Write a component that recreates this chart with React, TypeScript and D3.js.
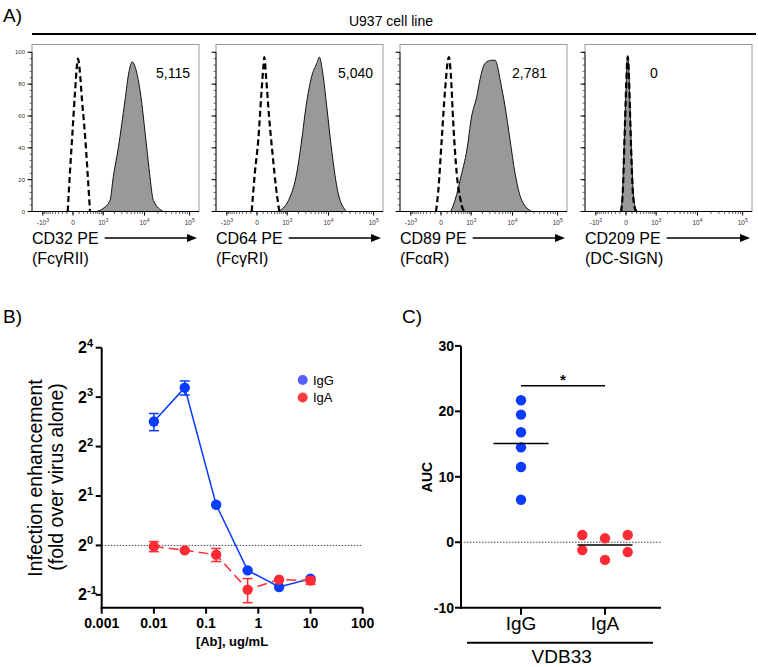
import React from "react";
import * as d3 from "d3";

const W = 758;
const H = 667;
const FONT = "'Liberation Sans', Arial, sans-serif";
const BLUE = "#0a3cff";
const RED = "#ff2b34";

// ---- panel A: flow histograms, [fluorescence, % of max]
const markers = ["CD32 PE", "CD64 PE", "CD89 PE", "CD209 PE"];
const receptors = ["(FcγRII)", "(FcγRI)", "(FcαR)", "(DC-SIGN)"];
const mfi = ["5,115", "5,040", "2,781", "0"];

const isotype = [
  [[-86, 0], [-46, 25], [-7, 50], [30, 75], [63, 92], [80, 96], [109, 90], [161, 70], [233, 48], [302, 25], [380, 0]],
  [[-86, 0], [-30, 25], [19, 45], [71, 75], [109, 92], [125, 97], [161, 85], [233, 60], [338, 35], [450, 15], [582, 0]],
  [[-80, 0], [-41, 13], [10, 45], [63, 76], [125, 96], [139, 97], [177, 87], [241, 55], [338, 24], [450, 9], [582, 1], [708, 0]],
  [[-80, 0], [-48, 13], [-22, 45], [2, 78], [20, 96], [28, 97], [42, 88], [63, 62], [90, 32], [120, 10], [170, 1], [205, 0]],
];

const stained = [
  [[644, 0], [1010, 2], [1530, 7], [1857, 22], [2470, 40], [3575, 70], [4435, 88], [5290, 94], [6100, 91], [7930, 76], [11230, 40], [13000, 24], [15800, 7], [26300, 0]],
  [[540, 0], [1199, 9], [1792, 24], [2388, 45], [3033, 66], [4136, 85], [5400, 93], [6200, 97], [7420, 87], [9130, 66], [11830, 38], [16600, 11], [25500, 0]],
  [[177, 0], [287, 7], [516, 24], [743, 38], [1037, 60], [1414, 72], [1722, 83], [2084, 91], [2526, 94], [3330, 95], [3985, 95], [4365, 93], [5210, 83], [6780, 66], [8800, 45], [11400, 24], [16100, 7], [26900, 0]],
  [[-86, 0], [-51, 13], [-25, 45], [0, 76], [19, 97], [25, 98], [41, 91], [63, 66], [93, 34], [125, 11], [184, 1], [215, 0]],
];

const histTicks = [-1000, 0, 1000, 10000, 100000];
const histTickLabels = [["-10", "3"], ["0", ""], ["10", "3"], ["10", "4"], ["10", "5"]];
const pctTicks = [0, 20, 40, 60, 80, 100];

// ---- panel B: infection enhancement
const conc = [0.01, 0.039, 0.156, 0.625, 2.5, 10];
const iggMean = [5.68, 9.14, 1.77, 0.705, 0.558, 0.627];
const iggSem = [0.68, 0.9, 0, 0, 0, 0];
const igaMean = [0.986, 0.933, 0.878, 0.538, 0.619, 0.61];
const igaSem = [0.07, 0, 0.08, 0.09, 0, 0.03];
const concTicks = [0.001, 0.01, 0.1, 1, 10, 100];
const concTickLabels = ["0.001", "0.01", "0.1", "1", "10", "100"];
const foldTicks = [0.5, 1, 2, 4, 8, 16];

// ---- panel C: AUC
const aucGroups = ["IgG", "IgA"];
const aucIgG = [21.7, 19.5, 16.8, 14.5, 11.5, 6.5];
const aucIgA = [1.1, 0.6, 1.1, -1.2, -2.7, -1.5];
const aucTicks = [-10, 0, 10, 20, 30];

const histLefts = [32, 216, 400, 585];
const HW = 167;
const mfiX = [124, 122, 112, 65];

function textWidth(s, size) {
  let w = 0;
  for (const c of s) {
    if (c === "C" || c === "D") w += 0.722;
    else if (c === "P" || c === "E") w += 0.667;
    else if (c === " ") w += 0.278;
    else w += 0.556;
  }
  return w * size;
}

function Histogram({ i }) {
  const left = histLefts[i];
  const x = d3.scaleSymlog().constant(280).domain([-1930, 160000]).range([left, left + HW]);
  const y = d3.scaleLinear().domain([0, 100]).range([211.5, 52.3]);
  const area = d3.area().x(d => x(d[0])).y0(y(0)).y1(d => y(d[1])).curve(d3.curveMonotoneX);
  const line = d3.line().x(d => x(d[0])).y(d => y(d[1])).curve(d3.curveMonotoneX);

  const minor = [];
  for (let v = -1000; v <= 1000; v += 100) minor.push(v);
  for (let v = 2000; v < 10000; v += 1000) minor.push(v);
  for (let v = 20000; v < 100000; v += 10000) minor.push(v);
  const pctMinor = d3.range(0, 101, 4);

  const arrowStart = left + textWidth(markers[i], 16) + 6;
  const arrowEnd = left + 165;

  return (
    <g>
      <rect x={left} y={44.5} width={HW} height={211.5 - 44.5} fill="none" stroke="#9a9a9a" strokeWidth={1} />
      <path d={area(stained[i])} fill="#999" stroke="#111" strokeWidth={1} />
      <path d={line(isotype[i])} fill="none" stroke="#000" strokeWidth={2.2} strokeDasharray="6,3.5" />
      <line x1={left} x2={left + HW} y1={211.5} y2={211.5} stroke="#000" strokeWidth={1.2} />
      <line x1={left} x2={left} y1={y(0)} y2={y(100)} stroke="#222" strokeWidth={1} />
      {minor.map(v => (
        <line key={"m" + v} x1={x(v)} x2={x(v)} y1={211.5} y2={214} stroke="#222" strokeWidth={0.7} />
      ))}
      {histTicks.map(v => (
        <line key={"t" + v} x1={x(v)} x2={x(v)} y1={211.5} y2={215.5} stroke="#000" strokeWidth={1} />
      ))}
      {histTicks.map((v, k) => (
        <text key={"l" + v} x={x(v)} y={225} fontSize={6.5} textAnchor="middle" fill="#333">
          {histTickLabels[k][0]}
          {histTickLabels[k][1] && <tspan fontSize={5} dy={-3}>{histTickLabels[k][1]}</tspan>}
        </text>
      ))}
      {pctMinor.map(v => (
        <line key={"pm" + v} x1={left - 2.5} x2={left} y1={y(v)} y2={y(v)} stroke="#333" strokeWidth={0.7} />
      ))}
      {pctTicks.map(v => (
        <line key={"p" + v} x1={left - 4.5} x2={left} y1={y(v)} y2={y(v)} stroke="#000" strokeWidth={1} />
      ))}
      {i === 0 && pctTicks.map(v => (
        <text key={"pl" + v} x={left - 7} y={y(v) + 2} fontSize={6} textAnchor="end" fill="#333">{v}</text>
      ))}
      <text x={left + mfiX[i]} y={78} fontSize={14}>{mfi[i]}</text>
      <text x={left} y={244} fontSize={16}>{markers[i]}</text>
      <text x={left} y={264} fontSize={16}>{receptors[i]}</text>
      <line x1={arrowStart} x2={arrowEnd - 8} y1={238} y2={238} stroke="#000" strokeWidth={1.6} />
      <polygon points={`${arrowEnd},238 ${arrowEnd - 10},234 ${arrowEnd - 10},242`} fill="#000" />
    </g>
  );
}

function PanelA() {
  return (
    <g>
      <text x={3} y={22} fontSize={19}>A)</text>
      <text x={391} y={26} fontSize={14} textAnchor="middle">U937 cell line</text>
      <line x1={32} x2={756} y1={34} y2={34} stroke="#000" strokeWidth={2} />
      {markers.map((m, i) => <Histogram key={m} i={i} />)}
    </g>
  );
}

function PanelB() {
  const x = d3.scaleLog().domain([0.001, 100]).range([101.7, 362.7]);
  const y = d3.scaleLog().base(2).domain([Math.pow(2, -1.26), 16]).range([607.7, 347.7]);
  const line = d3.line().x(d => x(d[0])).y(d => y(d[1]));
  const series = [
    { name: "IgG", mean: iggMean, sem: iggSem, color: BLUE, dash: null },
    { name: "IgA", mean: igaMean, sem: igaSem, color: RED, dash: "10,5" },
  ];
  return (
    <g>
      <text x={3} y={323} fontSize={19}>B)</text>
      <line x1={x(0.001)} x2={x(100)} y1={y(1)} y2={y(1)} stroke="#444" strokeWidth={1} strokeDasharray="1.5,1.5" />
      {series.map(s => (
        <g key={s.name}>
          <path d={line(conc.map((c, k) => [c, s.mean[k]]))} fill="none" stroke={s.color} strokeWidth={1.5}
            strokeDasharray={s.dash || undefined} />
          {conc.map((c, k) => s.sem[k] > 0 && (
            <g key={k} stroke={s.color} strokeWidth={1.5}>
              <line x1={x(c)} x2={x(c)} y1={y(s.mean[k] + s.sem[k])} y2={y(s.mean[k] - s.sem[k])} />
              <line x1={x(c) - 5} x2={x(c) + 5} y1={y(s.mean[k] + s.sem[k])} y2={y(s.mean[k] + s.sem[k])} />
              <line x1={x(c) - 5} x2={x(c) + 5} y1={y(s.mean[k] - s.sem[k])} y2={y(s.mean[k] - s.sem[k])} />
            </g>
          ))}
          {conc.map((c, k) => (
            <circle key={"c" + k} cx={x(c)} cy={y(s.mean[k])} r={5.2} fill={s.color} />
          ))}
        </g>
      ))}
      {/* axes */}
      <line x1={x(0.001)} x2={x(0.001)} y1={347.7} y2={608.7} stroke="#000" strokeWidth={2} />
      <line x1={x(0.001) - 1} x2={x(100)} y1={607.7} y2={607.7} stroke="#000" strokeWidth={2} />
      {foldTicks.map(v => (
        <g key={v}>
          <line x1={x(0.001) - 6} x2={x(0.001)} y1={y(v)} y2={y(v)} stroke="#000" strokeWidth={2} />
          <text x={87} y={y(v) + 5.5} fontSize={16} fontWeight="bold" textAnchor="end">2</text>
          <text x={87} y={y(v) - 1} fontSize={11} fontWeight="bold">{Math.log2(v)}</text>
        </g>
      ))}
      {concTicks.map((v, k) => (
        <g key={v}>
          <line x1={x(v)} x2={x(v)} y1={607.7} y2={613.7} stroke="#000" strokeWidth={2} />
          <text x={x(v)} y={628} fontSize={14} fontWeight="bold" textAnchor="middle">{concTickLabels[k]}</text>
        </g>
      ))}
      <text x={232} y={646} fontSize={13} fontWeight="bold" textAnchor="middle">[Ab], ug/mL</text>
      <text transform="translate(42,478) rotate(-90)" fontSize={19.5} textAnchor="middle">Infection enhancement</text>
      <text transform="translate(63,477) rotate(-90)" fontSize={19.5} textAnchor="middle">(fold over virus alone)</text>
      {/* legend */}
      <circle cx={302.7} cy={380} r={5} fill="#5560ff" />
      <text x={313} y={384.5} fontSize={13}>IgG</text>
      <circle cx={302.7} cy={397.5} r={5} fill="#ff3b3b" />
      <text x={313} y={402} fontSize={13}>IgA</text>
    </g>
  );
}

function PanelC() {
  const x = d3.scalePoint().domain(aucGroups).range([521, 605]);
  const y = d3.scaleLinear().domain([-10, 30]).range([607.7, 345.9]);
  const ax = 461;
  const groups = [
    { name: "IgG", vals: aucIgG, color: BLUE, cols: aucIgG.map(() => 0) },
    { name: "IgA", vals: aucIgA, color: RED, cols: aucIgA.map((_, k) => (k % 3) - 1) },
  ];
  return (
    <g>
      <text x={402} y={323} fontSize={19}>C)</text>
      <line x1={ax} x2={661} y1={y(0)} y2={y(0)} stroke="#444" strokeWidth={1} strokeDasharray="1.5,1.5" />
      {groups.map(g => (
        <g key={g.name}>
          {g.vals.map((v, k) => (
            <circle key={k} cx={x(g.name) + g.cols[k] * 22.7} cy={y(v)} r={5.2} fill={g.color} />
          ))}
          <line x1={x(g.name) - 27.5} x2={x(g.name) + 27.5} y1={y(d3.mean(g.vals))} y2={y(d3.mean(g.vals))}
            stroke="#000" strokeWidth={1.5} />
        </g>
      ))}
      <line x1={x("IgG")} x2={x("IgA")} y1={385.7} y2={385.7} stroke="#000" strokeWidth={1.5} />
      <text x={(x("IgG") + x("IgA")) / 2} y={385} fontSize={15} fontWeight="bold" textAnchor="middle">*</text>
      <line x1={ax} x2={ax} y1={345.9} y2={608.7} stroke="#000" strokeWidth={2} />
      <line x1={ax - 1} x2={661} y1={607.7} y2={607.7} stroke="#000" strokeWidth={2} />
      {aucTicks.map(v => (
        <g key={v}>
          <line x1={ax - 6} x2={ax} y1={y(v)} y2={y(v)} stroke="#000" strokeWidth={2} />
          <text x={ax - 7} y={y(v) + 5} fontSize={14} fontWeight="bold" textAnchor="end">{v}</text>
        </g>
      ))}
      {aucGroups.map(gname => (
        <g key={gname}>
          <line x1={x(gname)} x2={x(gname)} y1={607.7} y2={614.7} stroke="#000" strokeWidth={2} />
          <text x={x(gname)} y={630} fontSize={19} textAnchor="middle">{gname}</text>
        </g>
      ))}
      <text transform="translate(432,477) rotate(-90)" fontSize={14} fontWeight="bold" textAnchor="middle">AUC</text>
      <line x1={467} x2={653} y1={642.7} y2={642.7} stroke="#000" strokeWidth={2} />
      <text x={561.7} y={663} fontSize={19} textAnchor="middle">VDB33</text>
    </g>
  );
}

export default function App() {
  return (
    <svg width={W} height={H} viewBox={`0 0 ${W} ${H}`} fontFamily={FONT}
      style={{ position: "absolute", left: 0, top: 0, display: "block" }}>
      <rect width={W} height={H} fill="#fff" />
      <PanelA />
      <PanelB />
      <PanelC />
    </svg>
  );
}
